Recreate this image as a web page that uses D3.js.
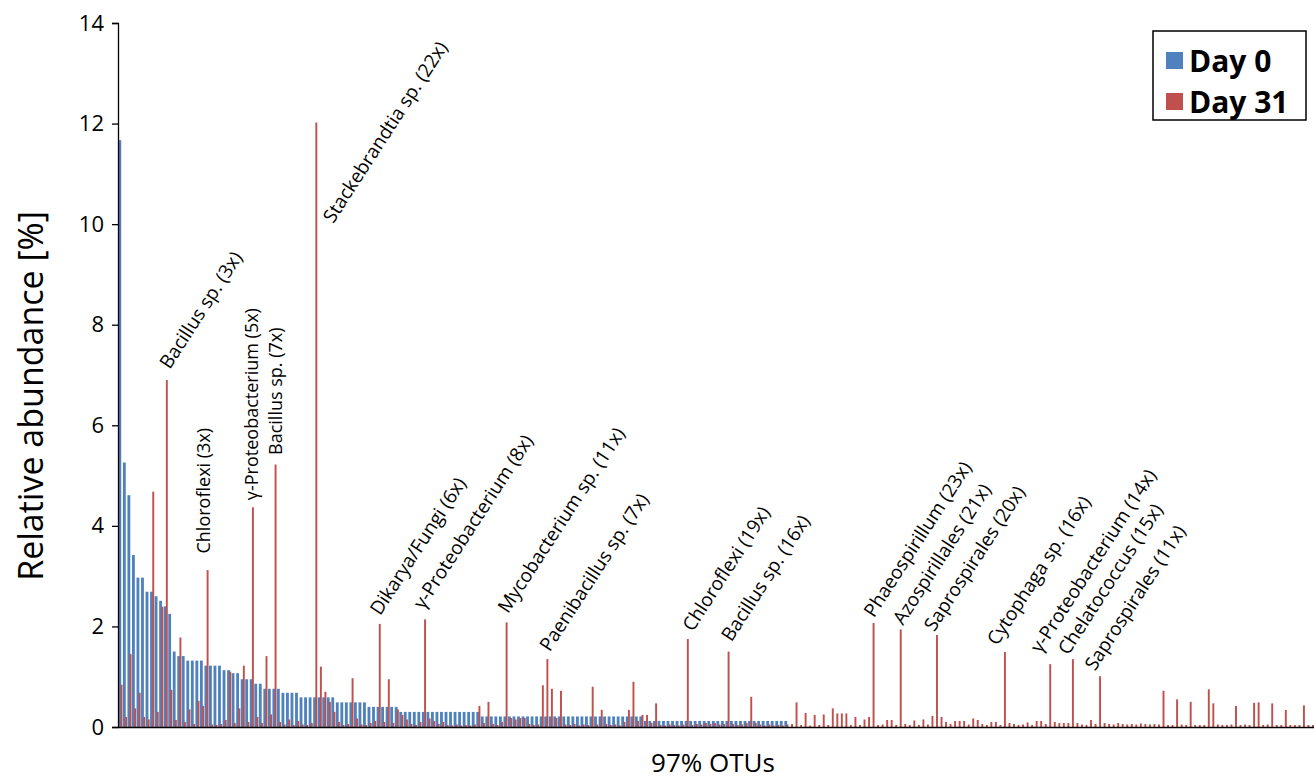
<!DOCTYPE html>
<html>
<head>
<meta charset="utf-8">
<script src="https://cdn.jsdelivr.net/npm/d3@7"></script>
<style>
  html, body { margin: 0; padding: 0; background: #ffffff; }
  svg { display: block; }
  text { font-family: "Open Sans", "DejaVu Sans", sans-serif; }
</style>
</head>
<body>
<svg id="chart" width="1314" height="779"></svg>
<script>
// ---------------- DATA ----------------
const seriesNames = ["Day 0", "Day 31"];
const yTicks = [0, 2, 4, 6, 8, 10, 12, 14];

// Relative abundance [%] at Day 0 (OTUs sorted by Day 0 abundance)
const day0 = [
  11.67, 5.26, 4.61, 3.42, 2.97, 2.97, 2.69, 2.69, 2.60, 2.51,
  2.40, 2.25, 1.50, 1.41, 1.41, 1.32, 1.32, 1.32, 1.32, 1.22,
  1.22, 1.22, 1.22, 1.13, 1.13, 1.07, 1.07, 0.95, 0.95, 0.95,
  0.86, 0.86, 0.76, 0.76, 0.76, 0.76, 0.68, 0.68, 0.68, 0.68,
  0.59, 0.59, 0.59, 0.59, 0.59, 0.59, 0.59, 0.59, 0.49, 0.49,
  0.49, 0.49, 0.49, 0.49, 0.49, 0.40, 0.40, 0.40, 0.40, 0.40,
  0.40, 0.40, 0.30, 0.30, 0.30, 0.30, 0.30, 0.30, 0.30, 0.30,
  0.30, 0.30, 0.30, 0.30, 0.30, 0.30, 0.30, 0.30, 0.30, 0.30,
  0.21, 0.21, 0.21, 0.21, 0.21, 0.21, 0.21, 0.21, 0.21, 0.21,
  0.21, 0.21, 0.21, 0.21, 0.21, 0.21, 0.21, 0.21, 0.21, 0.21,
  0.21, 0.21, 0.21, 0.21, 0.21, 0.21, 0.21, 0.21, 0.21, 0.21,
  0.21, 0.21, 0.21, 0.21, 0.21, 0.21, 0.12, 0.12, 0.12, 0.12,
  0.12, 0.12, 0.12, 0.12, 0.12, 0.12, 0.12, 0.12, 0.12, 0.12,
  0.12, 0.12, 0.12, 0.12, 0.12, 0.12, 0.12, 0.12, 0.12, 0.12,
  0.12, 0.12, 0.12, 0.12, 0.12, 0.12, 0.12, 0.12, 0, 0,
  0, 0, 0, 0, 0, 0, 0, 0, 0, 0,
  0, 0, 0, 0, 0, 0, 0, 0, 0, 0,
  0, 0, 0, 0, 0, 0, 0, 0, 0, 0,
  0, 0, 0, 0, 0, 0, 0, 0, 0, 0,
  0, 0, 0, 0, 0, 0, 0, 0, 0, 0,
  0, 0, 0, 0, 0, 0, 0, 0, 0, 0,
  0, 0, 0, 0, 0, 0, 0, 0, 0, 0,
  0, 0, 0, 0, 0, 0, 0, 0, 0, 0,
  0, 0, 0, 0, 0, 0, 0, 0, 0, 0,
  0, 0, 0, 0, 0, 0, 0, 0, 0, 0,
  0, 0, 0, 0, 0, 0, 0, 0, 0, 0,
  0, 0, 0, 0
];

// Relative abundance [%] at Day 31 (same OTU order)
const day31 = [
  0.84, 0.20, 1.45, 0.37, 0.68, 0.20, 0.15, 4.68, 0.30, 2.39,
  6.90, 0.74, 0.14, 1.78, 0.10, 0.35, 0.06, 0.52, 0.42, 3.12,
  0.05, 0.04, 0.06, 0.14, 1.10, 0.08, 0.37, 1.22, 0.10, 4.37,
  0.20, 0.08, 1.41, 0.25, 5.22, 0.10, 0.05, 0.15, 0.04, 0.12,
  0.05, 0.04, 0.08, 12.02, 1.20, 0.70, 0.50, 0.30, 0.10, 0.04,
  0.06, 0.97, 0.17, 0.05, 0.04, 0.08, 0.12, 2.05, 0.10, 0.95,
  0.08, 0.35, 0.24, 0.15, 0.06, 0.04, 0.10, 2.14, 0.17, 0.12,
  0.06, 0.10, 0.04, 0.03, 0.05, 0.03, 0.04, 0.03, 0.05, 0.42,
  0.08, 0.50, 0.06, 0.04, 0.10, 2.08, 0.18, 0.15, 0.18, 0.18,
  0.06, 0.04, 0.05, 0.83, 1.35, 0.76, 0.18, 0.72, 0.05, 0.04,
  0.06, 0.03, 0.05, 0.04, 0.80, 0.05, 0.34, 0.06, 0.04, 0.05,
  0.03, 0.10, 0.34, 0.90, 0.12, 0.24, 0.24, 0.08, 0.47, 0.04,
  0.03, 0.05, 0.04, 0.03, 0.05, 1.75, 0.04, 0.06, 0.05, 0.08,
  0.06, 0.08, 0.05, 0.06, 1.50, 0.06, 0.04, 0.05, 0.08, 0.60,
  0.08, 0.05, 0.03, 0.05, 0.03, 0.04, 0.03, 0.05, 0.06, 0.49,
  0.04, 0.28, 0.03, 0.24, 0.04, 0.25, 0.04, 0.37, 0.27, 0.27,
  0.27, 0.04, 0.20, 0.04, 0.15, 0.20, 2.07, 0.04, 0.05, 0.14,
  0.14, 0.04, 1.94, 0.06, 0.04, 0.13, 0.04, 0.15, 0.05, 0.22,
  1.83, 0.20, 0.10, 0.06, 0.12, 0.12, 0.12, 0.05, 0.17, 0.14,
  0.06, 0.04, 0.10, 0.10, 0.04, 1.49, 0.08, 0.06, 0.04, 0.05,
  0.09, 0.04, 0.12, 0.12, 0.06, 1.25, 0.10, 0.08, 0.08, 0.08,
  1.35, 0.08, 0.05, 0.04, 0.14, 0.06, 1.01, 0.08, 0.06, 0.05,
  0.08, 0.06, 0.05, 0.06, 0.05, 0.07, 0.06, 0.05, 0.06, 0.05,
  0.72, 0.04, 0.04, 0.55, 0.05, 0.04, 0.50, 0.04, 0.04, 0.04,
  0.75, 0.47, 0.05, 0.04, 0.04, 0.05, 0.42, 0.04, 0.05, 0.04,
  0.48, 0.49, 0.04, 0.05, 0.47, 0.04, 0.04, 0.34, 0.04, 0.04,
  0.04, 0.43, 0.04, 0.04
];

const otus = day0.map((d, i) => "OTU " + (i + 1));

// Annotated OTUs (fold change Day 31 / Day 0)
const labelTexts = [
  "Bacillus sp. (3x)", "Chloroflexi (3x)", "γ-Proteobacterium (5x)", "Bacillus sp. (7x)",
  "Stackebrandtia sp. (22x)", "Dikarya/Fungi (6x)", "γ-Proteobacterium (8x)",
  "Mycobacterium sp. (11x)", "Paenibacillus sp. (7x)", "Chloroflexi (19x)",
  "Bacillus sp. (16x)", "Phaeospirillum (23x)", "Azospirillales (21x)",
  "Saprospirales (20x)", "Cytophaga sp. (16x)", "γ-Proteobacterium (14x)",
  "Chelatococcus (15x)", "Saprospirales (11x)"
];
const labelOtu = [10, 19, 29, 34, 43, 57, 67, 85, 94, 125, 134, 166, 172, 180, 195, 205, 210, 216];

// label layout (anchor value in %, pixel x-offset, rotation)
const labelAnchorVal = [7.10, 3.45, 4.51, 5.41, 10.0, 2.20, 2.32, 2.24, 1.48, 1.88, 1.68, 2.16, 2.01, 1.88, 1.60, 1.45, 1.41, 1.10];
const labelDx = [3, 2.5, 5.7, 6.6, 17, 0.5, -1.5, 1.5, 2.5, 5, 3, 0.5, 2.5, -2.5, -7.5, -9.5, -4.5, -5];
const labelRot = [-57, -90, -90, -90, -57, -57, -57, -57, -57, -57, -57, -57, -57, -57, -57, -57, -57, -57];

// ---------------- CHART ----------------
const colors = { "Day 0": "#4F81BD", "Day 31": "#C0504D" };
const svg = d3.select("#chart");
const mLeft = 118, mRight = 1314, mTop = 23, mBottom = 727;

const x = d3.scaleBand().domain(otus).range([mLeft, mRight]).paddingInner(0).paddingOuter(0);
const bw = x.bandwidth();
const xSub = d3.scaleBand().domain(seriesNames).range([0, bw]).paddingInner(0);
const y = d3.scaleLinear().domain([0, 14]).range([mBottom, mTop]);

const rows = otus.map((o, i) => ({ otu: o, "Day 0": day0[i], "Day 31": day31[i] }));

// Day 0 bars
svg.append("g").selectAll("rect")
  .data(rows.filter(r => r["Day 0"] > 0))
  .join("rect")
  .attr("x", d => x(d.otu) + xSub("Day 0") + 0.4)
  .attr("width", xSub.bandwidth() * 1.25)
  .attr("y", d => y(d["Day 0"]))
  .attr("height", d => y(0) - y(d["Day 0"]))
  .attr("fill", colors["Day 0"]);

// Day 31 bars
svg.append("g").selectAll("rect")
  .data(rows)
  .join("rect")
  .attr("x", d => x(d.otu) + xSub("Day 31") + 0.3)
  .attr("width", xSub.bandwidth() * 0.85)
  .attr("y", d => y(d["Day 31"]))
  .attr("height", d => y(0) - y(d["Day 31"]))
  .attr("fill", colors["Day 31"]);

// Y axis
const yAxis = svg.append("g")
  .attr("transform", `translate(${mLeft},0)`)
  .call(d3.axisLeft(y).tickValues(yTicks).tickSize(6).tickPadding(8).tickFormat(d3.format("d")));
yAxis.select(".domain").attr("stroke", "#000").attr("stroke-width", 1.3);
yAxis.selectAll(".tick line").attr("stroke", "#000").attr("stroke-width", 1.3);
yAxis.selectAll(".tick text").attr("font-size", 22).attr("fill", "#000")
  .style("font-family", "'Open Sans', sans-serif");

// X axis (category axis, no tick labels)
const xAxis = svg.append("g")
  .attr("transform", `translate(0,${mBottom})`)
  .call(d3.axisBottom(x).tickValues([]).tickSizeOuter(0));
xAxis.select(".domain").attr("stroke", "#000").attr("stroke-width", 1.3);

// Axis titles
svg.append("text")
  .attr("transform", `translate(43,396) rotate(-90)`)
  .attr("text-anchor", "middle")
  .attr("font-size", 34)
  .attr("fill", "#000")
  .text("Relative abundance [%]");

svg.append("text")
  .attr("x", 713)
  .attr("y", 772)
  .attr("text-anchor", "middle")
  .attr("font-size", 26)
  .attr("fill", "#000")
  .text("97% OTUs");

// Annotations
const labelG = svg.append("g");
labelTexts.forEach((t, k) => {
  const i = labelOtu[k];
  const cx = x(otus[i]) + xSub("Day 31") + xSub.bandwidth() / 2 + labelDx[k];
  const cy = y(labelAnchorVal[k]);
  labelG.append("text")
    .attr("transform", `translate(${cx},${cy}) rotate(${labelRot[k]})`)
    .attr("font-size", labelRot[k] === -90 ? 18 : 19)
    .attr("fill", "#000")
    .text(t);
});

// Legend
const lg = svg.append("g");
lg.append("rect").attr("x", 1153).attr("y", 31).attr("width", 153).attr("height", 89)
  .attr("fill", "#fff").attr("stroke", "#000").attr("stroke-width", 1.5);
seriesNames.forEach((s, k) => {
  lg.append("rect").attr("x", 1166).attr("y", 52 + k * 41).attr("width", 17).attr("height", 17)
    .attr("fill", colors[s]);
  lg.append("text").attr("x", 1189).attr("y", 72 + k * 41)
    .attr("font-size", 30).attr("font-weight", "bold").attr("fill", "#000")
    .text(s);
});
</script>
</body>
</html>
